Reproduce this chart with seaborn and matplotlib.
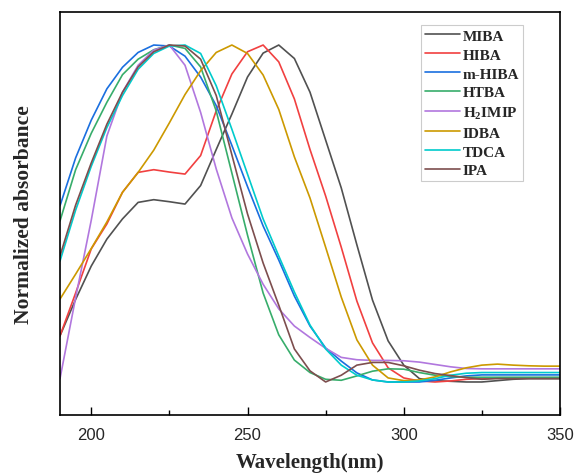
import numpy as np
import pandas as pd
import matplotlib
matplotlib.use("Agg")
import matplotlib.pyplot as plt
import seaborn as sns
from matplotlib.ticker import MultipleLocator

wavelength = list(range(190, 351, 5))

MIBA = [0.137, 0.245, 0.344, 0.424, 0.484, 0.533, 0.541, 0.535, 0.528, 0.583, 0.69, 0.795, 0.905,
        0.976, 1.0, 0.96, 0.86, 0.718, 0.576, 0.407, 0.243, 0.122, 0.05, 0.01, 0.004, 0.002, 0.0,
        0.0, 0.004, 0.008, 0.01, 0.01, 0.01]
HIBA = [0.137, 0.264, 0.395, 0.469, 0.563, 0.622, 0.63, 0.623, 0.617, 0.672, 0.805, 0.914, 0.98,
        1.0, 0.95, 0.84, 0.69, 0.552, 0.40, 0.24, 0.116, 0.042, 0.012, 0.003, 0.0, 0.003, 0.008,
        0.01, 0.012, 0.012, 0.012, 0.012, 0.012]
m_HIBA = [0.523, 0.665, 0.777, 0.87, 0.934, 0.978, 1.0, 0.997, 0.967, 0.905, 0.82, 0.702, 0.58,
          0.463, 0.362, 0.255, 0.166, 0.101, 0.062, 0.027, 0.006, 0.0, 0.0, 0.0, 0.005, 0.012,
          0.018, 0.021, 0.021, 0.021, 0.021, 0.021, 0.021]
HTBA = [0.478, 0.63, 0.738, 0.83, 0.912, 0.958, 0.986, 1.0, 0.99, 0.935, 0.804, 0.62, 0.436,
        0.264, 0.14, 0.065, 0.028, 0.008, 0.005, 0.018, 0.032, 0.039, 0.038, 0.028, 0.02, 0.016,
        0.014, 0.014, 0.014, 0.014, 0.014, 0.014, 0.014]
H2IMIP = [0.01, 0.25, 0.48, 0.73, 0.86, 0.94, 0.985, 1.0, 0.94, 0.80, 0.632, 0.487, 0.38,
          0.29, 0.217, 0.166, 0.132, 0.1, 0.073, 0.066, 0.064, 0.064, 0.063, 0.059, 0.052, 0.045,
          0.04, 0.039, 0.039, 0.039, 0.039, 0.039, 0.039]
IDBA = [0.246, 0.32, 0.396, 0.475, 0.563, 0.622, 0.688, 0.769, 0.853, 0.924, 0.978, 1.0, 0.975,
        0.911, 0.809, 0.668, 0.546, 0.40, 0.252, 0.125, 0.05, 0.012, 0.004, 0.006, 0.015, 0.03,
        0.042, 0.05, 0.053, 0.05, 0.048, 0.047, 0.047]
TDCA = [0.359, 0.51, 0.64, 0.755, 0.85, 0.928, 0.975, 0.997, 1.0, 0.975, 0.879, 0.75, 0.617,
        0.484, 0.374, 0.267, 0.169, 0.098, 0.05, 0.02, 0.006, 0.0, 0.0, 0.003, 0.01, 0.02,
        0.026, 0.028, 0.028, 0.028, 0.028, 0.028, 0.028]
IPA = [0.374, 0.525, 0.65, 0.765, 0.86, 0.935, 0.98, 1.0, 0.997, 0.958, 0.85, 0.674, 0.499,
       0.353, 0.228, 0.098, 0.033, 0.0, 0.02, 0.05, 0.058, 0.058, 0.048, 0.035, 0.025, 0.019,
       0.013, 0.008, 0.01, 0.01, 0.01, 0.01, 0.01]

labels = ["MIBA", "HIBA", "m-HIBA", "HTBA", "H$_2$IMIP", "IDBA", "TDCA", "IPA"]
series = [MIBA, HIBA, m_HIBA, HTBA, H2IMIP, IDBA, TDCA, IPA]
colors = ["#515151", "#F14040", "#1A6FDF", "#37AD6B", "#B177DE", "#CC9900", "#00CBCC", "#7D4E4E"]

xticks = [200, 250, 300, 350]

frames = []
for lab, vals in zip(labels, series):
    frames.append(pd.DataFrame({"Wavelength": wavelength, "Absorbance": vals, "Compound": lab}))
df = pd.concat(frames, ignore_index=True)

sns.set_theme(style="white")
plt.rcParams["font.family"] = ["Liberation Sans", "DejaVu Sans"]
plt.rcParams["mathtext.fontset"] = "custom"
plt.rcParams["mathtext.rm"] = "Liberation Serif:bold"
plt.rcParams["mathtext.it"] = "Liberation Serif:bold"
plt.rcParams["mathtext.bf"] = "Liberation Serif:bold"

fig = plt.figure(figsize=(5.78, 4.77), dpi=100)
ax = fig.add_axes([60 / 578, 1 - 416 / 477, 500 / 578, 403 / 477])

sns.lineplot(data=df, x="Wavelength", y="Absorbance", hue="Compound", hue_order=labels,
             palette=colors, linewidth=1.2, ax=ax, legend=False, sort=False)

ax.set_xlim(190, 350)
ax.set_ylim(-0.098, 1.098)
ax.set_xticks(xticks)
ax.xaxis.set_minor_locator(MultipleLocator(25))
ax.set_yticks([])
ax.tick_params(axis="x", which="major", direction="in", length=6, width=1.0, color="black",
               labelsize=12, pad=9, bottom=True)
ax.tick_params(axis="x", which="minor", direction="in", length=3.5, width=1.0, color="black",
               bottom=True)
for lbl in ax.get_xticklabels():
    lbl.set_fontfamily("Liberation Sans")

for s in ax.spines.values():
    s.set_color("black")
    s.set_linewidth(1.2)
    s.set_visible(True)

ax.set_xlabel("Wavelength(nm)", fontfamily="Liberation Serif", fontweight="bold",
              fontsize=15, labelpad=7)
ax.set_ylabel("Normalized absorbance", fontfamily="Liberation Serif", fontweight="bold",
              fontsize=15.5, labelpad=19)

handles = [plt.Line2D([], [], color=c, lw=1.2) for c in colors]
leg = ax.legend(handles, labels, loc="upper right", bbox_to_anchor=(0.926, 0.967),
                frameon=True, fancybox=False, edgecolor="#cccccc", framealpha=1,
                prop={"family": "Liberation Serif", "weight": "bold", "size": 11},
                handlelength=2.3, handletextpad=0.15, labelspacing=0.34,
                borderpad=0.25, borderaxespad=0.0)
leg.get_frame().set_linewidth(0.8)

fig.savefig("out.png", dpi=100)
